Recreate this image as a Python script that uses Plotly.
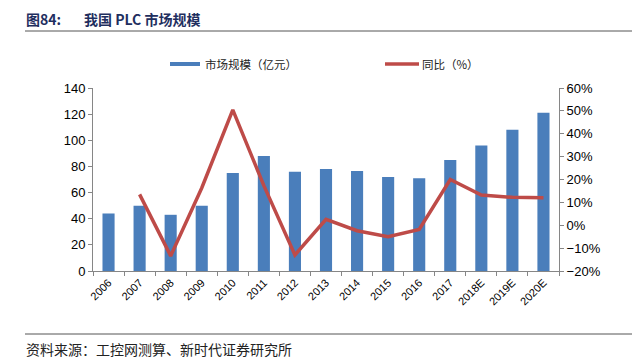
import plotly.graph_objects as go

years = ["2006", "2007", "2008", "2009", "2010", "2011", "2012", "2013", "2014",
         "2015", "2016", "2017", "2018E", "2019E", "2020E"]
market_size = [44, 50, 43, 50, 75, 88, 76, 78, 76.5, 72, 71, 85, 96, 108, 121]
growth_years = years[1:]
growth = [0.135, -0.134, 0.163, 0.504, 0.173, -0.13, 0.026, -0.024, -0.05, -0.018,
          0.20, 0.132, 0.122, 0.12]

bar_color = "#4A7EBB"
line_color = "#BE4B48"
axis_color = "#868686"
font_fam = "Liberation Sans, Arial, sans-serif"
cjk = "Noto Sans CJK SC"

# page body has an 8px margin; figure is placed at (8, 8)
OFF = 8
PL, PR, PT, PB = 93, 559, 88, 271  # plot area in page pixels
PW, PH = PR - PL, PB - PT


def px(x):
    return (x - PL) / PW


def py(y):
    return (PB - y) / PH


fig = go.Figure()
fig.add_trace(go.Bar(x=years, y=market_size, name="市场规模（亿元）",
                     marker=dict(color=bar_color, line=dict(width=0)), width=0.39))
fig.add_trace(go.Scatter(x=growth_years, y=growth, name="同比（%）", mode="lines",
                         line=dict(color=line_color, width=3.5), yaxis="y2"))

W, H = 640 - OFF, 364 - OFF
fig.update_layout(
    width=W, height=H,
    margin=dict(l=PL - OFF, r=W - (PR - OFF), t=PT - OFF, b=H - (PB - OFF), pad=0),
    paper_bgcolor="white", plot_bgcolor="white",
    font=dict(family=font_fam, color="#000000"),
    showlegend=False,
    xaxis=dict(type="category", showline=True, linecolor=axis_color, linewidth=1,
               ticks="outside", tickson="boundaries", ticklen=4, tickcolor=axis_color,
               tickangle=-45, tickfont=dict(size=11, family=font_fam),
               showgrid=False, zeroline=False),
    yaxis=dict(range=[0, 140], dtick=20, showline=True, linecolor=axis_color, linewidth=1,
               ticks="outside", ticklen=4, tickcolor=axis_color,
               tickfont=dict(size=13, family=font_fam), showgrid=False, zeroline=False),
    yaxis2=dict(range=[-0.2, 0.6], dtick=0.1, tickformat=".0%", overlaying="y", side="right",
                showline=True, linecolor=axis_color, linewidth=1,
                ticks="outside", ticklen=4, tickcolor=axis_color,
                tickfont=dict(size=13, family=font_fam), showgrid=False, zeroline=False),
)

# title
fig.add_annotation(xref="paper", yref="paper", x=px(24), y=py(19),
                   xanchor="left", yanchor="middle", showarrow=False,
                   text="<b>图84:</b>", font=dict(family=cjk, size=14, color="#1F2F5F"))
fig.add_annotation(xref="paper", yref="paper", x=px(82), y=py(19),
                   xanchor="left", yanchor="middle", showarrow=False,
                   text="<b>我国 PLC 市场规模</b>", font=dict(family=cjk, size=14, color="#1F2F5F"))
# source
fig.add_annotation(xref="paper", yref="paper", x=px(24), y=py(349),
                   xanchor="left", yanchor="middle", showarrow=False,
                   text="资料来源：工控网测算、新时代证券研究所",
                   font=dict(family=cjk, size=14, color="#222222"))
# rules
for yy in (31, 334):
    fig.add_shape(type="line", xref="paper", yref="paper",
                  x0=px(25), x1=px(632), y0=py(yy), y1=py(yy),
                  line=dict(color="#555555", width=1))

# legend
fig.add_shape(type="rect", xref="paper", yref="paper",
              x0=px(170), x1=px(200), y0=py(62), y1=py(66),
              line=dict(width=0), fillcolor=bar_color)
fig.add_annotation(xref="paper", yref="paper", x=px(203), y=py(64),
                   xanchor="left", yanchor="middle", showarrow=False,
                   text="市场规模（亿元）", font=dict(family=cjk, size=11.5, color="#222222"))
fig.add_shape(type="line", xref="paper", yref="paper",
              x0=px(385), x1=px(419), y0=py(64), y1=py(64),
              line=dict(width=3.5, color=line_color))
fig.add_annotation(xref="paper", yref="paper", x=px(420), y=py(64),
                   xanchor="left", yanchor="middle", showarrow=False,
                   text="同比（%）", font=dict(family=cjk, size=11.5, color="#222222"))

fig.write_html("out.html")
